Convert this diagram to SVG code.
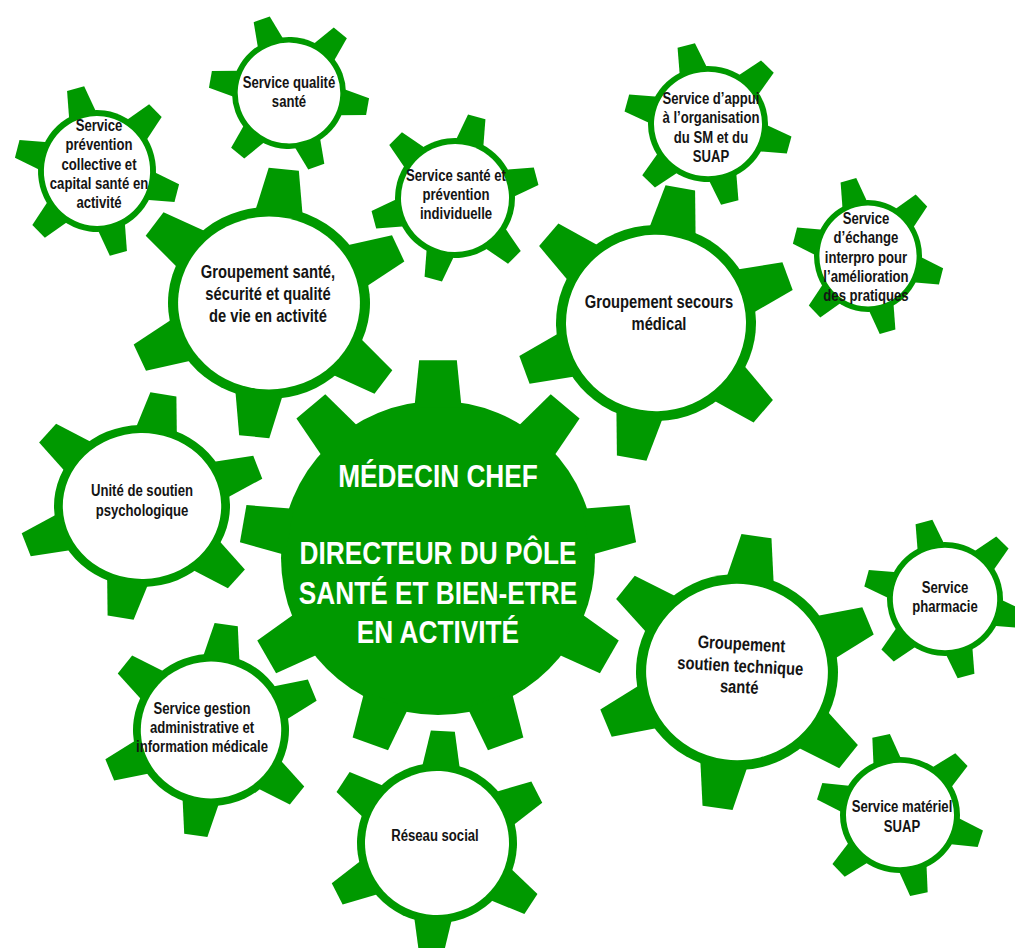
<svg xmlns="http://www.w3.org/2000/svg" xmlns:xlink="http://www.w3.org/1999/xlink" width="1015" height="948" viewBox="0 0 1015 948">
<style>
.t{font-family:"Liberation Sans Narrow","Arial Narrow","Liberation Sans",Arial,sans-serif;font-weight:bold;font-size:16px;fill:#141414;text-anchor:middle}
.tl{font-size:18px}
.tc{font-size:32px;fill:#ffffff}
</style>
<defs>
<polygon id="tooth6" points="-24,-92 -15,-140 15,-140 24,-92" fill="#009900"/>
<g id="g6">
<circle r="100" fill="#009900"/>
<use href="#tooth6"/>
<use href="#tooth6" transform="rotate(60)"/>
<use href="#tooth6" transform="rotate(120)"/>
<use href="#tooth6" transform="rotate(180)"/>
<use href="#tooth6" transform="rotate(240)"/>
<use href="#tooth6" transform="rotate(300)"/>
<circle r="90" fill="#ffffff"/>
</g>
<polygon id="tooth9" points="-15,-96 -12,-126 12,-126 15,-96" fill="#009900"/>
<g id="g9">
<circle r="100" fill="#009900"/>
<use href="#tooth9"/>
<use href="#tooth9" transform="rotate(40)"/>
<use href="#tooth9" transform="rotate(80)"/>
<use href="#tooth9" transform="rotate(120)"/>
<use href="#tooth9" transform="rotate(160)"/>
<use href="#tooth9" transform="rotate(200)"/>
<use href="#tooth9" transform="rotate(240)"/>
<use href="#tooth9" transform="rotate(280)"/>
<use href="#tooth9" transform="rotate(320)"/>
</g>
</defs>
<rect width="1015" height="948" fill="#ffffff"/>
<g id="connectors"/>

<g id="prevention-collective">
<use href="#g6" transform="translate(97 171) scale(0.59 0.61) rotate(-15)"/>
<text class="t" transform="matrix(0.82 0 0 1 17.82 0)"><tspan x="99" y="131">Service</tspan><tspan x="99" y="150">prévention</tspan><tspan x="99" y="170">collective et</tspan><tspan x="99" y="189">capital santé en</tspan><tspan x="99" y="208">activité</tspan></text>
</g>

<g id="qualite-sante">
<use href="#g6" transform="translate(289 93) scale(0.57 0.56) rotate(-20)"/>
<text class="t" transform="matrix(0.82 0 0 1 52.02 0)"><tspan x="289" y="88">Service qualité</tspan><tspan x="289" y="107">santé</tspan></text>
</g>

<g id="sante-prevention-individuelle">
<use href="#g6" transform="translate(455 198) scale(0.6 0.6) rotate(15)"/>
<text class="t" transform="matrix(0.82 0 0 1 82.08 0)"><tspan x="456" y="181">Service santé et</tspan><tspan x="456" y="200">prévention</tspan><tspan x="456" y="219">individuelle</tspan></text>
</g>

<g id="groupement-sante-securite">
<use href="#g6" transform="translate(269 303) scale(1.01 0.96) rotate(6)"/>
<text class="t tl" transform="matrix(0.82 0 0 1 48.24 0)"><tspan x="268" y="278">Groupement santé,</tspan><tspan x="268" y="300">sécurité et qualité</tspan><tspan x="268" y="322">de vie en activité</tspan></text>
</g>

<g id="appui-organisation">
<use href="#g6" transform="translate(708 124) scale(0.6 0.58) rotate(-15)"/>
<text class="t" transform="matrix(0.82 0 0 1 127.98 0)"><tspan x="711" y="104">Service d’appui</tspan><tspan x="711" y="123">à l’organisation</tspan><tspan x="711" y="143">du SM et du</tspan><tspan x="711" y="162">SUAP</tspan></text>
</g>

<g id="groupement-secours">
<use href="#g6" transform="translate(656 323) scale(1.0 0.98) rotate(10)"/>
<text class="t tl" transform="matrix(0.82 0 0 1 118.62 0)"><tspan x="659" y="308">Groupement secours</tspan><tspan x="659" y="330">médical</tspan></text>
</g>

<g id="echange-interpro">
<use href="#g6" transform="translate(868 256) scale(0.54 0.56) rotate(-15)"/>
<text class="t" transform="matrix(0.82 0 0 1 155.88 0)"><tspan x="866" y="224">Service</tspan><tspan x="866" y="243">d’échange</tspan><tspan x="866" y="263">interpro pour</tspan><tspan x="866" y="282">l’amélioration</tspan><tspan x="866" y="301">des pratiques</tspan></text>
</g>

<g id="soutien-psychologique">
<use href="#g6" transform="translate(142 506) scale(0.88 0.81) rotate(10)"/>
<text class="t" transform="matrix(0.82 0 0 1 25.56 0)"><tspan x="142" y="496">Unité de soutien</tspan><tspan x="142" y="516">psychologique</tspan></text>
</g>

<g id="gestion-administrative">
<use href="#g6" transform="translate(211 730) scale(0.78 0.76) rotate(8)"/>
<text class="t" transform="matrix(0.82 0 0 1 36.36 0)"><tspan x="202" y="714">Service gestion</tspan><tspan x="202" y="733">administrative et</tspan><tspan x="202" y="752">information médicale</tspan></text>
</g>

<g id="reseau-social">
<use href="#g6" transform="translate(437 843) scale(0.8 0.8) rotate(3)"/>
<text class="t" transform="matrix(0.82 0 0 1 78.3 0)"><tspan x="435" y="841">Réseau social</tspan></text>
</g>

<g id="groupement-soutien-technique">
<use href="#g6" transform="translate(737 672) rotate(3) scale(1.01 0.98) rotate(5)"/>
<text class="t tl" transform="rotate(3 740 672) matrix(0.82 0 0 1 133.2 0)"><tspan x="740" y="650">Groupement</tspan><tspan x="740" y="672">soutien technique</tspan><tspan x="740" y="693">santé</tspan></text>
</g>

<g id="pharmacie">
<use href="#g6" transform="translate(945 599) scale(0.58 0.57) rotate(-15)"/>
<text class="t" transform="matrix(0.82 0 0 1 170.1 0)"><tspan x="945" y="593">Service</tspan><tspan x="945" y="612">pharmacie</tspan></text>
</g>

<g id="materiel-suap">
<use href="#g6" transform="translate(900 815) scale(0.6 0.58) rotate(-13)"/>
<text class="t" transform="matrix(0.82 0 0 1 162.36 0)"><tspan x="902" y="812">Service matériel</tspan><tspan x="902" y="832">SUAP</tspan></text>
</g>

<g id="medecin-chef">
<use href="#g9" transform="translate(438 558) scale(1.57 1.57)"/>
<text class="t tc" transform="matrix(0.82 0 0 1 78.84 0)"><tspan x="438" y="487">MÉDECIN CHEF</tspan><tspan x="438" y="564">DIRECTEUR DU PÔLE</tspan><tspan x="438" y="604">SANTÉ ET BIEN-ETRE</tspan><tspan x="438" y="643">EN ACTIVITÉ</tspan></text>
</g>
</svg>
